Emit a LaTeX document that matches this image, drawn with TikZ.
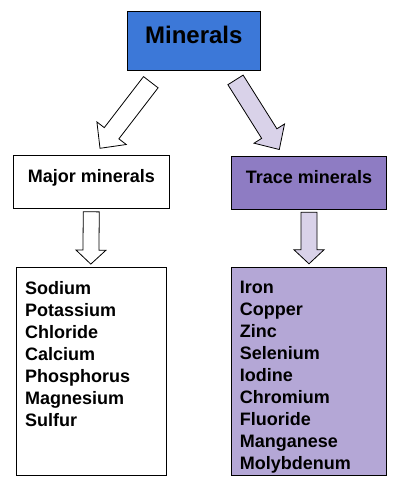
\documentclass[tikz,border=0pt]{standalone}
\usepackage{fontspec}
\setmainfont{Liberation Sans}
\usepackage{xcolor}
\usepackage{tikz}
\usetikzlibrary{calc}
\usetikzlibrary{positioning}

\definecolor{topblue}{HTML}{3C78D8}
\definecolor{tracepurple}{HTML}{8E7CC3}
\definecolor{listpurple}{HTML}{B4A7D6}
\definecolor{arrowlilac}{HTML}{D9D2E9}

% толстая стрелка: [стиль]{откуда}{куда}{полуширина стержня}{полуширина головки}{длина головки}
\newcommand{\blockarrow}[6][]{%
	\draw[blockarr,#1] ($(#2)!#4!90:(#3)$) -- ($(#3)!#6!(#2)!#4!-90:(#2)$)
		-- ($(#3)!#6!(#2)!#5!-90:(#2)$) -- (#3) -- ($(#3)!#6!(#2)!#5!90:(#2)$)
		-- ($(#3)!#6!(#2)!#4!90:(#2)$) -- ($(#2)!#4!-90:(#3)$) -- cycle;}

\begin{document}
\begin{tikzpicture}[
		x=1pt, y=-1pt,
		titlebox/.style={draw, rectangle, fill=topblue, minimum width=133pt, minimum height=59pt, inner sep=0pt,
			font=\fontsize{24}{28}\selectfont\bfseries, text height=17pt, text depth=12pt},
		groupbox/.style={draw, rectangle, fill=white, minimum width=156pt, minimum height=53pt, inner sep=0pt,
			font=\fontsize{18}{22}\selectfont\bfseries, text height=13pt, text depth=10.5pt},
		listbox/.style={draw, rectangle, minimum height=208pt, inner sep=0pt},
		listtext/.style={anchor=north west, align=left, inner sep=0pt, font=\fontsize{18}{22}\selectfont\bfseries},
		blockarr/.style={draw, fill=white, line width=0.8pt, line join=miter}
		]
		\useasboundingbox (0,0) rectangle (415,490);
		
		% Верхний блок
		\node[titlebox] (minerals) at (193.8,40.8) {Minerals};
		
		% Группы
		\node[groupbox] (major) at (91.3,181.7) {Major minerals};
		\node[groupbox, fill=tracepurple, minimum width=155pt] (trace) at (309,182.2) {Trace minerals};
		
		% Списки
		\node[listbox, fill=white, minimum width=150pt] (majorlist) at (90.8,371.3) {};
		\node[listbox, fill=listpurple, minimum width=155pt] (tracelist) at (309,371.3) {};
		\node[listtext] (majoritems) at ($(majorlist.north west)+(9.3,13.9)$)
			{Sodium\\Potassium\\Chloride\\Calcium\\Phosphorus\\Magnesium\\Sulfur};
		\node[listtext] (traceitems) at ($(tracelist.north west)+(8.4,13.9)$)
			{Iron\\Copper\\Zinc\\Selenium\\Iodine\\Chromium\\Fluoride\\Manganese\\Molybdenum};
		
		% Концы стрелок
		\coordinate (majorfrom) at ($(minerals.south)+(-43,11.7)$);
		\coordinate (majorto) at ($(major.north)+(8.7,-6.7)$);
		\coordinate (tracefrom) at ($(minerals.south)+(41.7,9.4)$);
		\coordinate (traceto) at ($(trace.north)+(-29.7,-6)$);
		\coordinate (majordown) at ($(major.south)+(0,3.4)$);
		\coordinate (majorlistto) at ($(majorlist.north)+(0,-3)$);
		\coordinate (tracedown) at ($(trace.south)+(0,3.4)$);
		\coordinate (tracelistto) at ($(tracelist.north)+(0,-3.3)$);
		
		% Стрелки от верхнего блока
		\blockarrow{majorfrom}{majorto}{9.2pt}{18.5pt}{19pt}
		\blockarrow[fill=arrowlilac]{tracefrom}{traceto}{9pt}{18pt}{18.8pt}
		
		% Стрелки вниз к спискам
		\blockarrow{majordown}{majorlistto}{8pt}{15pt}{14pt}
		\blockarrow[fill=arrowlilac]{tracedown}{tracelistto}{8pt}{15pt}{14pt}
		
	\end{tikzpicture}
\end{document}
